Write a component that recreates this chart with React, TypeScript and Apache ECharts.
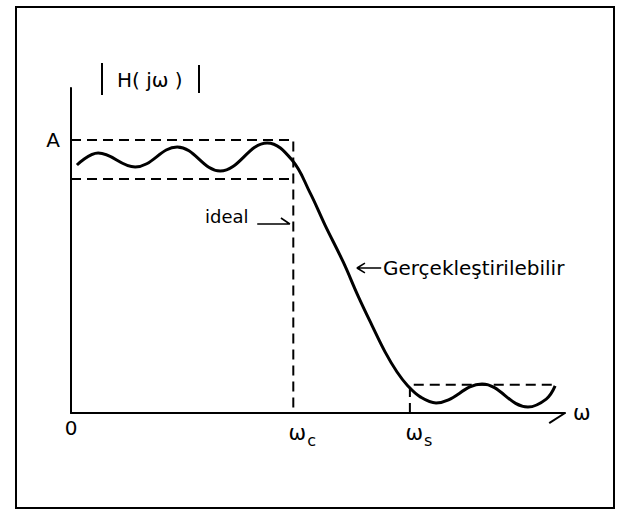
import React, { useEffect, useRef } from "react";
import * as echarts from "echarts";

const FONT = "DejaVu Sans";

// Tick positions / labels (x in relative frequency units, y in relative magnitude)
const xTickValues = [0, 45, 68.6];
const xTickLabels = ["{z|0}", "{w|ω}{s|c}", "{w|ω}{s|s}"];
const yTickValues = [1];
const yTickLabels = ["A"];

// Realizable (Gerçekleştirilebilir) response curve
const curveX = [1.2, 5.5, 13.0, 21.5, 30.2, 39.7, 44.7, 48.4, 51.4, 55.1, 58.1, 60.9, 63.6, 66.0, 68.2, 70.7, 73.9, 83.2, 92.5, 96.2, 98.0];
const curveY = [0.908, 0.952, 0.901, 0.974, 0.886, 0.989, 0.927, 0.806, 0.689, 0.553, 0.429, 0.322, 0.223, 0.15, 0.099, 0.059, 0.037, 0.106, 0.022, 0.051, 0.099];

// Ideal (tolerance) box levels
const passUpper = 1;
const passLower = 0.857;
const wc = 45;
const ws = 68.6;
const stopLevel = 0.103;
const stopEnd = 97.6;

// annotation arrows
const idealArrowX = [37.7, 44.3, 42.5];
const idealArrowY = [0.692, 0.692, 0.714];
const realArrowX = [62.8, 57.9, 59.5, 57.9, 59.5];
const realArrowY = [0.531, 0.531, 0.549, 0.531, 0.513];

// axis arrow barbs
const yBarbX = [0, -1.4];
const yBarbY = [1.19, 1.143];
const xBarbX = [100, 96.8];
const xBarbY = [0, -0.037];

const zip = (xs: number[], ys: number[]) => xs.map((x, i) => [x, ys[i]]);

export default function App() {
  const ref = useRef<HTMLDivElement>(null);
  useEffect(() => {
    if (!ref.current) return;
    const chart = echarts.init(ref.current, null, { renderer: "svg" });
    const black = "#000";
    const dashed = { color: black, width: 2, type: [10, 6] as any };
    const thin = { color: black, width: 1.6 };
    chart.setOption({
      animation: false,
      backgroundColor: "#fff",
      grid: { left: 71, right: 62, top: 88, bottom: 97 },
      xAxis: {
        type: "value",
        min: 0,
        max: 100,
        axisLine: { show: true, lineStyle: { color: black, width: 2 } },
        axisTick: { show: false },
        splitLine: { show: false },
        axisLabel: {
          customValues: xTickValues,
          margin: 5,
          color: black,
          fontFamily: FONT,
          fontSize: 20,
          formatter: (v: number) => {
            const i = xTickValues.findIndex((t) => Math.abs(t - v) < 1e-6);
            return i >= 0 ? xTickLabels[i] : "";
          },
          rich: {
            z: { fontSize: 20, fontFamily: FONT, color: black },
            w: { fontSize: 21, fontFamily: FONT, color: black, padding: [0, 0, 0, 18] },
            s: { fontSize: 16, fontFamily: FONT, color: black, padding: [14, 0, 0, 1] },
          },
        },
        name: "ω",
        nameLocation: "end",
        nameGap: 8,
        nameTextStyle: { fontSize: 21, color: black, fontFamily: FONT },
      },
      yAxis: {
        type: "value",
        min: 0,
        max: 1.19,
        axisLine: { show: true, lineStyle: { color: black, width: 2 } },
        axisTick: { show: false },
        splitLine: { show: false },
        axisLabel: {
          customValues: yTickValues,
          margin: 11,
          color: black,
          fontFamily: FONT,
          fontSize: 20,
          formatter: (v: number) => {
            const i = yTickValues.findIndex((t) => Math.abs(t - v) < 1e-6);
            return i >= 0 ? yTickLabels[i] : "";
          },
        },
      },
      graphic: [
        {
          type: "rect",
          shape: { x: 16, y: 7, width: 598, height: 501 },
          style: { fill: "none", stroke: black, lineWidth: 2 },
          silent: true,
        },
        { type: "line", shape: { x1: 102, y1: 63, x2: 102, y2: 95 }, style: { stroke: black, lineWidth: 2 } },
        { type: "line", shape: { x1: 199, y1: 65, x2: 199, y2: 93 }, style: { stroke: black, lineWidth: 2 } },
        {
          type: "text",
          x: 117,
          y: 80,
          style: { text: "H( jω )", fontSize: 20, fontFamily: FONT, fill: black, verticalAlign: "middle", align: "left" },
        },
        {
          type: "text",
          x: 205,
          y: 216,
          style: { text: "ideal", fontSize: 18, fontFamily: FONT, fill: black, verticalAlign: "middle", align: "left" },
        },
        {
          type: "text",
          x: 383,
          y: 268,
          style: { text: "Gerçekleştirilebilir", fontSize: 20, fontFamily: FONT, fill: black, verticalAlign: "middle", align: "left" },
        },
      ],
      series: [
        {
          type: "line",
          data: zip(curveX, curveY),
          smooth: 0.4,
          symbol: "none",
          lineStyle: { color: black, width: 3 },
          z: 5,
        },
        {
          type: "line",
          data: [[0, passUpper], [wc, passUpper], [wc, 0]],
          symbol: "none",
          lineStyle: dashed,
        },
        {
          type: "line",
          data: [[0, passLower], [wc, passLower]],
          symbol: "none",
          lineStyle: dashed,
        },
        {
          type: "line",
          data: [[ws, 0], [ws, stopLevel], [stopEnd, stopLevel]],
          symbol: "none",
          lineStyle: dashed,
        },
        {
          type: "line",
          data: zip(idealArrowX, idealArrowY),
          symbol: "none",
          lineStyle: thin,
        },
        {
          type: "line",
          data: zip(realArrowX, realArrowY),
          symbol: "none",
          lineStyle: thin,
        },
        {
          type: "line",
          data: zip(yBarbX, yBarbY),
          symbol: "none",
          clip: false,
          lineStyle: { color: black, width: 2 },
        },
        {
          type: "line",
          data: zip(xBarbX, xBarbY),
          symbol: "none",
          clip: false,
          lineStyle: { color: black, width: 2 },
        },
      ],
    });
    return () => chart.dispose();
  }, []);
  return (
    <div
      ref={ref}
      style={{ position: "fixed", left: 0, top: 0, width: 627, height: 510, background: "#fff" }}
    />
  );
}
